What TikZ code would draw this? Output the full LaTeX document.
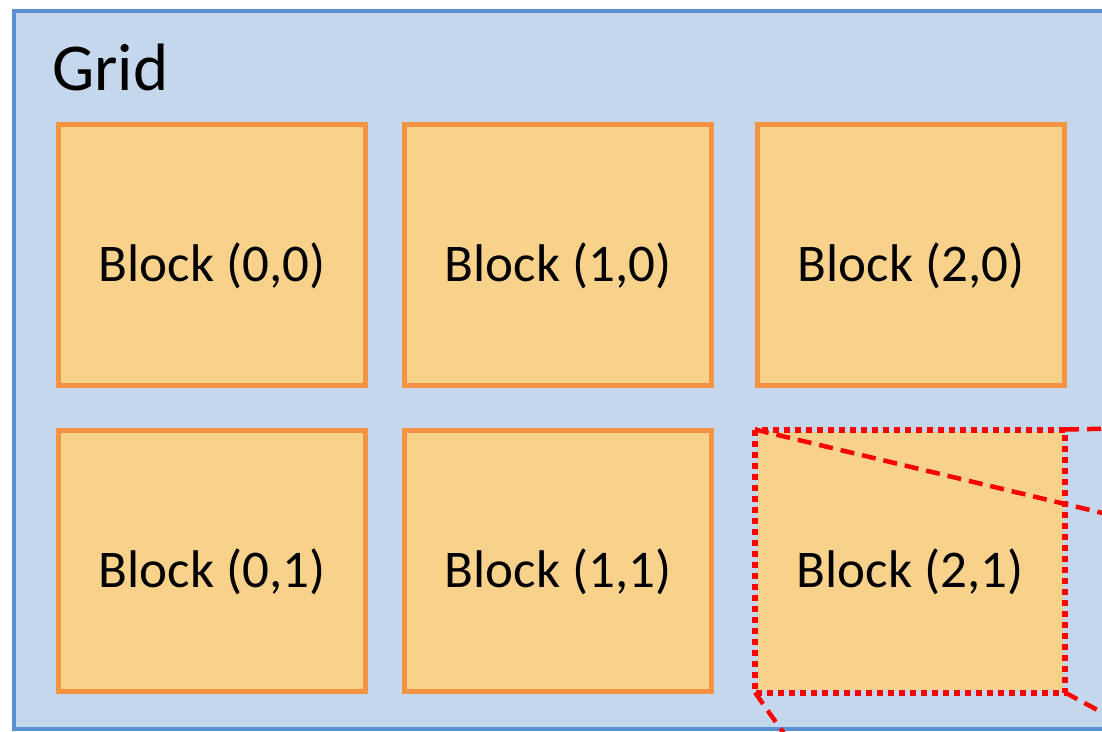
\documentclass[tikz,border=0pt]{standalone}
\usepackage{fontspec}
\setmainfont{Carlito}
\definecolor{gridfill}{HTML}{C5D7EC}
\definecolor{gridline}{HTML}{5B8FD4}
\definecolor{blockfill}{HTML}{F8D28A}
\definecolor{blockline}{HTML}{F49442}
\definecolor{sel}{HTML}{FF0000}
\tikzset{
  blockbox/.style={draw=blockline, fill=blockfill, line width=5pt, minimum width=307pt, minimum height=261pt, inner sep=0pt, font=\fontsize{53}{60}\selectfont, text height=58pt, text depth=6pt},
  selbox/.style={draw=sel, line width=6pt, dash pattern=on 6pt off 5pt},
  zoomline/.style={draw=sel, line width=4.5pt, dash pattern=on 14pt off 8pt},
}
\begin{document}
\begin{tikzpicture}[x=1pt,y=-1pt]
\useasboundingbox (0,0) rectangle (1102,731);
\clip (0,0) rectangle (1102,731);
\fill[white] (0,0) rectangle (1102,731);
\node[draw=gridline, fill=gridfill, line width=4pt, minimum width=1100pt, minimum height=718pt, inner sep=0pt, anchor=north west] (grid) at (12,9) {};
\node[anchor=base west, inner sep=0pt, font=\fontsize{67}{70}\selectfont] (gridlabel) at (52,90) {Grid};
\node[blockbox] (b00) at (212,255) {Block (0,0)};
\node[blockbox] (b10) at (558,255) {Block (1,0)};
\node[blockbox] (b20) at (911,255) {Block (2,0)};
\node[blockbox] (b01) at (212,561) {Block (0,1)};
\node[blockbox] (b11) at (558,561) {Block (1,1)};
\node[blockbox, draw=none, minimum width=305pt, minimum height=258pt] (b21) at (910,561) {Block (2,1)};
\draw[selbox] (b21.north west) rectangle (b21.south east);
\coordinate (e1) at (1140,522);
\coordinate (e2) at (1140,428);
\coordinate (e3) at (1140,733);
\coordinate (e4) at (792,745);
\draw[zoomline] (b21.north west) -- (e1);
\draw[zoomline] (b21.north east) -- (e2);
\draw[zoomline] (b21.south east) -- (e3);
\draw[zoomline] (b21.south west) -- (e4);
\end{tikzpicture}
\end{document}
